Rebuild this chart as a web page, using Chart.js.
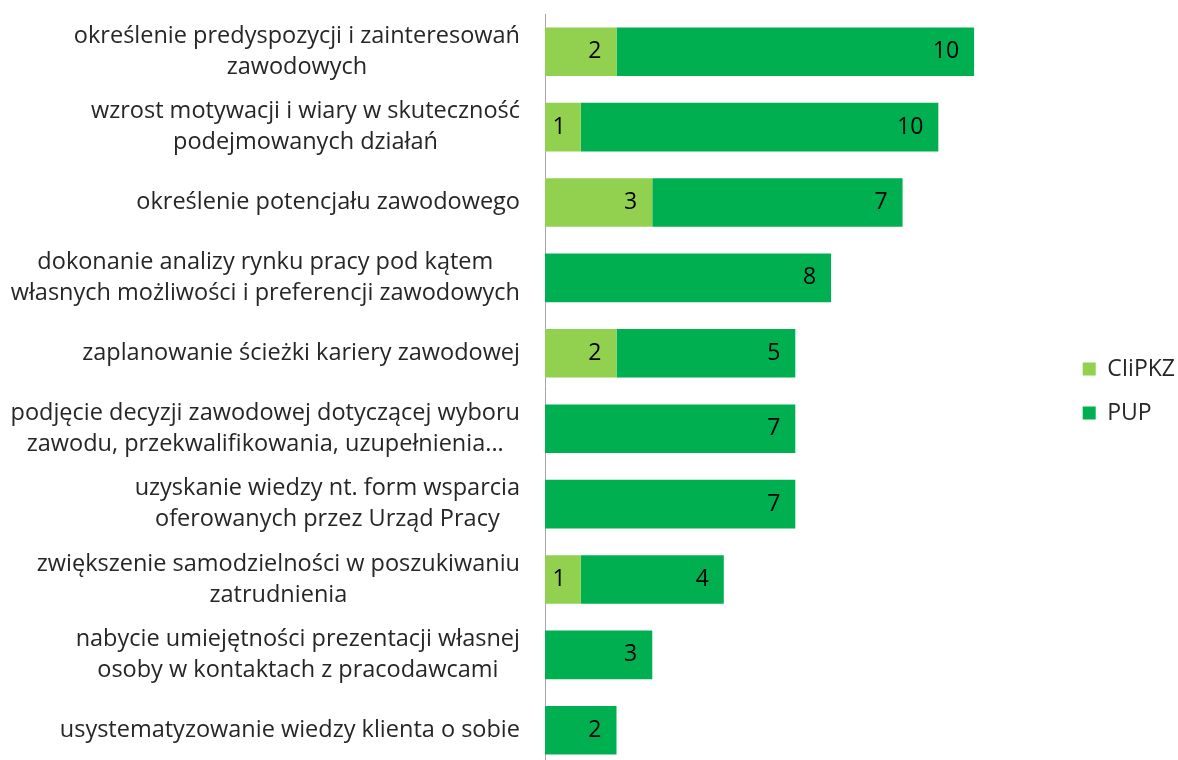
<!DOCTYPE html>
<html>
<head>
<meta charset="utf-8">
<script src="https://cdn.jsdelivr.net/npm/chart.js@4"></script>
<style>
  html, body { margin: 0; padding: 0; background: #fff; overflow: hidden; }
  #wrap { width: 1178px; height: 768px; }
</style>
</head>
<body>
<div id="wrap"><canvas id="chart"></canvas></div>
<script>
const categories = [
    ['określenie predyspozycji i zainteresowań', 'zawodowych'],
    ['wzrost motywacji i wiary w skuteczność', 'podejmowanych działań'],
    ['określenie potencjału zawodowego'],
    ['dokonanie analizy rynku pracy pod kątem', 'własnych możliwości i preferencji zawodowych'],
    ['zaplanowanie ścieżki kariery zawodowej'],
    ['podjęcie decyzji zawodowej dotyczącej wyboru', 'zawodu, przekwalifikowania, uzupełnienia...'],
    ['uzyskanie wiedzy nt. form wsparcia', 'oferowanych przez Urząd Pracy'],
    ['zwiększenie samodzielności w poszukiwaniu', 'zatrudnienia'],
    ['nabycie umiejętności prezentacji własnej', 'osoby w kontaktach z pracodawcami'],
    ['usystematyzowanie wiedzy klienta o sobie']
];
const clipkz = [2, 1, 3, 0, 2, 0, 0, 1, 0, 0];
const pup = [10, 10, 7, 8, 5, 7, 7, 4, 3, 2];

const FONT = 'Open Sans';
const FONT_SIZE = 23;

// etykiety kategorii: blok wyrównany do prawej, linie wyśrodkowane
const categoryLabels = {
    id: 'categoryLabels',
    afterDraw(chart) {
        const ctx = chart.ctx;
        const y = chart.scales.y;
        const right = chart.chartArea.left - 25;
        const lh = 31;
        ctx.save();
        ctx.font = '23.5px ' + FONT;
        ctx.fillStyle = '#262626';
        ctx.textBaseline = 'middle';
        ctx.textAlign = 'center';
        categories.forEach((lines, i) => {
            const cy = y.getPixelForTick(i);
            const w = Math.max(...lines.map(l => ctx.measureText(l).width));
            const cx = right - w / 2;
            lines.forEach((l, j) => {
                ctx.fillText(l, cx, cy + (j - (lines.length - 1) / 2) * lh);
            });
        });
        ctx.restore();
    }
};

// wartości na końcu segmentów
const valueLabels = {
    id: 'valueLabels',
    afterDatasetsDraw(chart) {
        const ctx = chart.ctx;
        ctx.save();
        ctx.font = FONT_SIZE + 'px ' + FONT;
        ctx.fillStyle = '#000';
        ctx.textAlign = 'right';
        ctx.textBaseline = 'middle';
        chart.data.datasets.forEach((ds, di) => {
            chart.getDatasetMeta(di).data.forEach((bar, i) => {
                if (!ds.data[i]) return;
                ctx.fillText(ds.data[i], bar.x - 15, bar.y);
            });
        });
        ctx.restore();
    }
};

new Chart(document.querySelector('#chart'), {
    type: 'bar',
    data: {
        labels: categories,
        datasets: [{
            label: 'CIiPKZ',
            data: clipkz,
            backgroundColor: '#92D050'
        }, {
            label: 'PUP',
            data: pup,
            backgroundColor: '#00B050'
        }]
    },
    options: {
        indexAxis: 'y',
        responsive: true,
        maintainAspectRatio: false,
        animation: false,
        layout: {
            padding: { left: 537, top: 14, bottom: 0, right: -7 }
        },
        datasets: {
            bar: { categoryPercentage: 1, barPercentage: 0.645 }
        },
        scales: {
            x: {
                stacked: true,
                min: 0,
                max: 14.45,
                display: false
            },
            y: {
                stacked: true,
                grid: { display: false },
                ticks: { display: false },
                border: { display: true, color: '#a6a6a6', width: 1 }
            }
        },
        plugins: {
            legend: {
                position: 'right',
                labels: {
                    font: { family: FONT, size: FONT_SIZE },
                    color: '#262626',
                    boxWidth: 13,
                    boxHeight: 13,
                    padding: 21
                }
            },
            tooltip: { enabled: false }
        }
    },
    plugins: [categoryLabels, valueLabels]
});
</script>
</body>
</html>
